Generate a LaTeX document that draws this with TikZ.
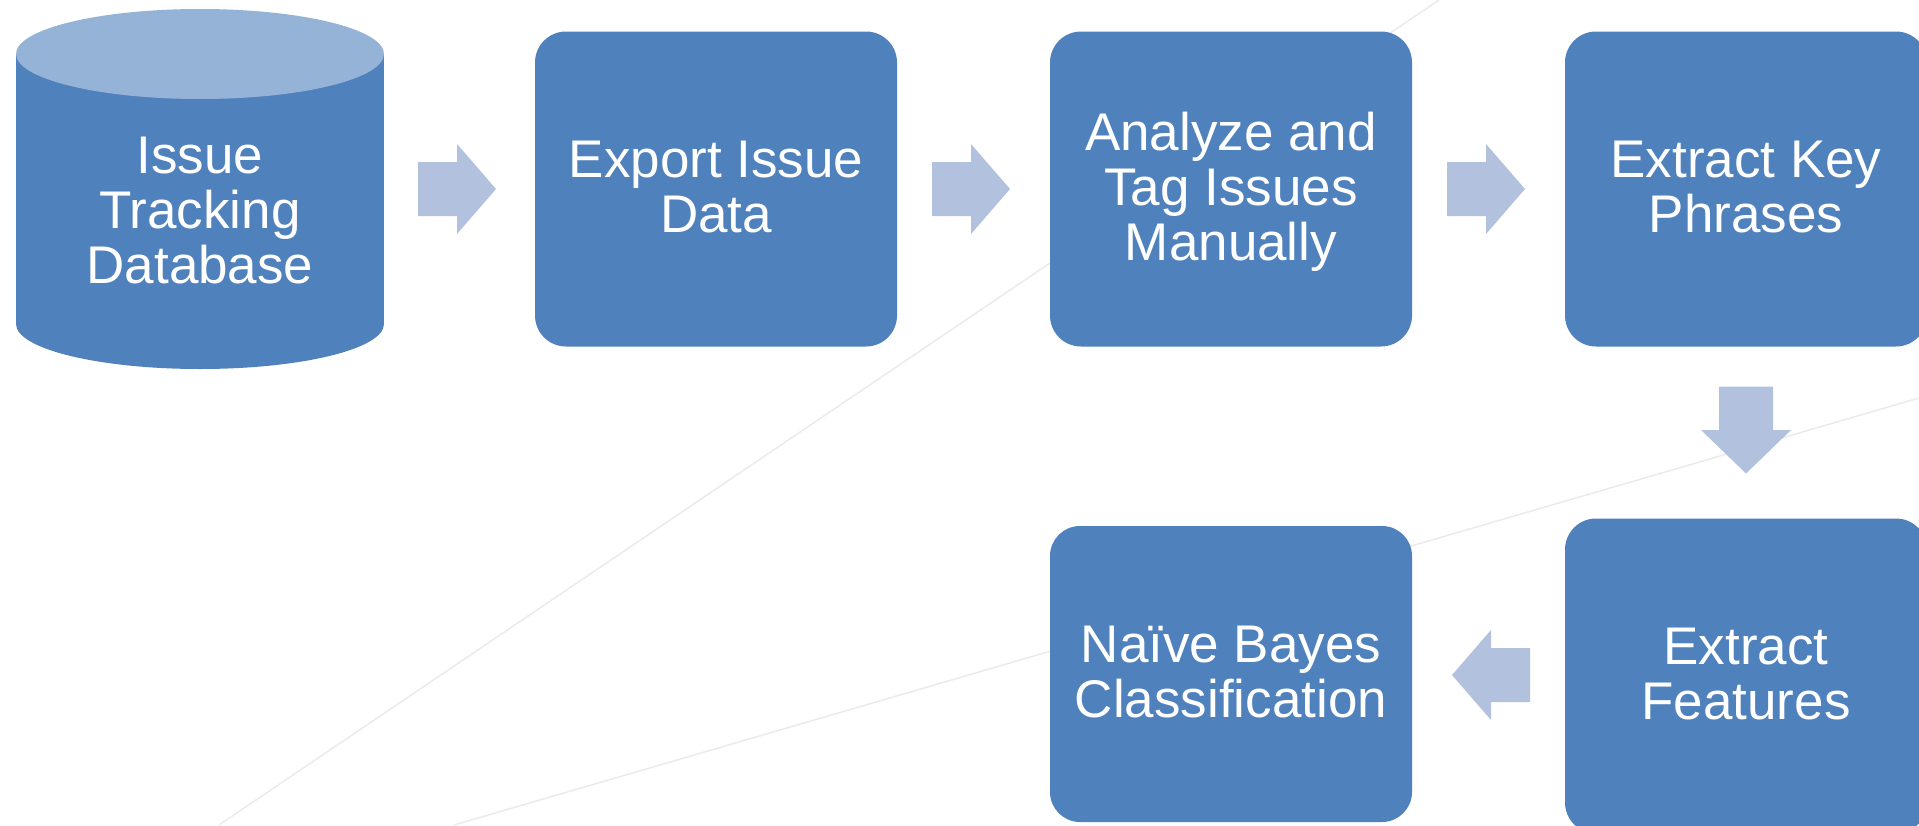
\documentclass[tikz,border=0pt]{standalone}
\usepackage{fontspec}
\setmainfont{Liberation Sans}
\usetikzlibrary{calc}

\definecolor{boxblue}{HTML}{4F81BD}
\definecolor{capblue}{HTML}{95B3D7}
\definecolor{arrowblue}{HTML}{B2C2DE}
\definecolor{guide}{HTML}{EBEBEB}

% strut giving every text line the same height/depth, lines 55pt apart
\newcommand\lnstrut{\rule[-11.5pt]{0pt}{55pt}}

\begin{document}
\begin{tikzpicture}[x=1pt,y=-1pt,
  labeltext/.style={inner sep=0pt, text=white, align=center,
    font=\fontsize{53}{55}\selectfont},
  stepbox/.style={labeltext, rectangle, rounded corners=31pt, fill=boxblue,
    minimum width=362pt, minimum height=315pt},
  shortbox/.style={stepbox, rounded corners=30pt, minimum height=296pt},
  dbshape/.style={rectangle, inner sep=0pt, minimum width=368pt, minimum height=360pt},
  guideline/.style={draw=guide, line width=1.5pt},
  % block arrow pointing along +x, set back 2.5pt from the gap centre
  pics/blockarrow/.style={code={
    \fill[arrowblue, xshift=-2.5pt] (-#1,-27) -- (0,-27) -- (0,-45) -- (#1,0) -- (0,45)
      -- (0,27) -- (-#1,27) -- cycle;}},
]
\useasboundingbox (0,0) rectangle (1919,825);
\clip (0,0) rectangle (1919,825);
\fill[white] (0,0) rectangle (1919,825);

% faint background lines
\coordinate (ga1) at (219,825);
\coordinate (ga2) at (1439,0);
\coordinate (gb1) at (454,825);
\coordinate (gb2) at (1919,398);
\draw[guideline] (ga1) -- (ga2);
\draw[guideline] (gb1) -- (gb2);

% database cylinder
\node[dbshape] (db) at (200,189) {};
\fill[boxblue] (16,54) rectangle (384,324);
\fill[boxblue] (200,324) ellipse [x radius=184pt, y radius=45pt];
\fill[capblue] (200,54) ellipse [x radius=184pt, y radius=45pt];
\node[labeltext] (dbtext) at (200,212) {Issue\lnstrut\\Tracking\lnstrut\\Database\lnstrut};

% process steps
\node[stepbox] (export) at (716,189) {Export Issue\lnstrut\\Data\lnstrut};
\node[stepbox] (analyze) at (1231,189) {Analyze and\lnstrut\\Tag Issues\lnstrut\\Manually\lnstrut};
\node[stepbox] (phrases) at (1746,189) {Extract Key\lnstrut\\Phrases\lnstrut};
\node[stepbox] (features) at (1746,676) {Extract\lnstrut\\Features\lnstrut};
\node[shortbox] (naive) at (1231,674) {Naïve Bayes\lnstrut\\Classification\lnstrut};

% block arrows between the steps
\pic at ($(db.east)!0.5!(export.west)$) {blockarrow=39};
\pic at ($(export.east)!0.5!(analyze.west)$) {blockarrow=39};
\pic at ($(analyze.east)!0.5!(phrases.west)$) {blockarrow=39};
\pic[rotate=-90] at ($(phrases.south)!0.5!(features.north)$) {blockarrow=43.5};
\pic[rotate=180] at ($(features.west)!0.5!(naive.east)$) {blockarrow=39};
\end{tikzpicture}
\end{document}
